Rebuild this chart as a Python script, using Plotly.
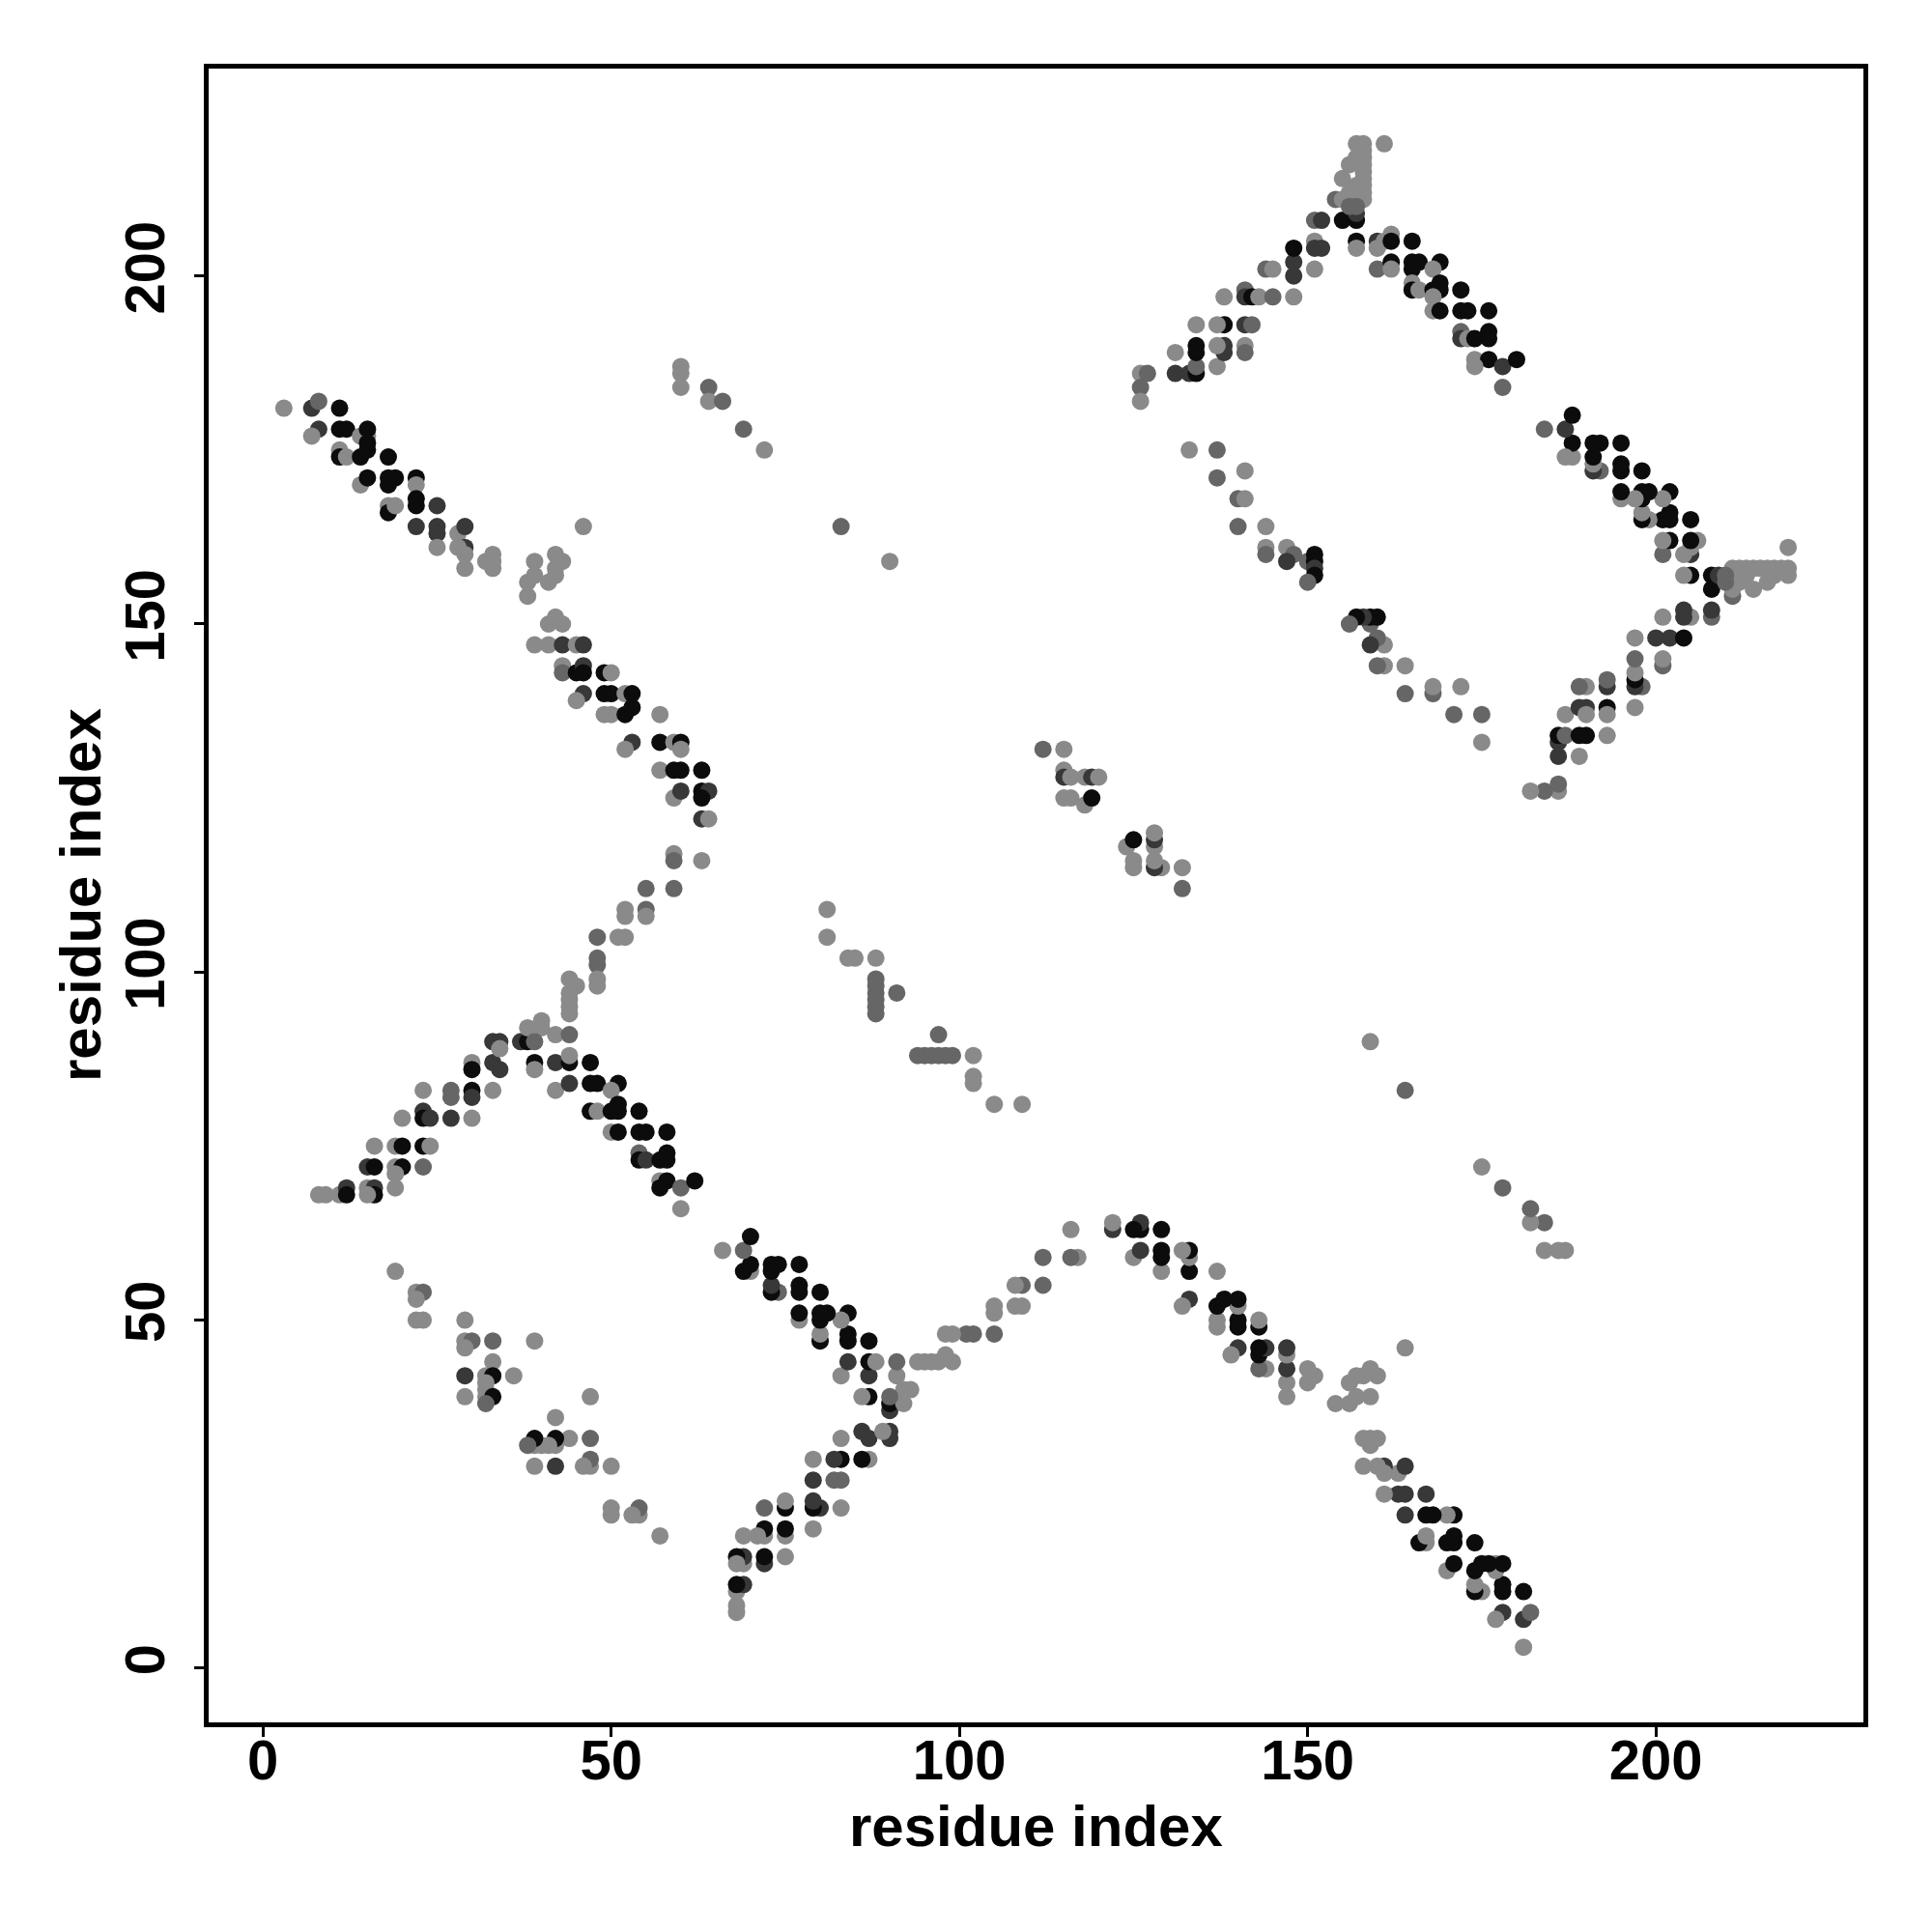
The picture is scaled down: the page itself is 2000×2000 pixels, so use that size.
import plotly.graph_objects as go

# contact score classes (0 = weak/light gray ... 1 = strong/black)
L, M, D, K = 0.0, 0.35, 0.7, 1.0

# contacts (i, j, score) with i < j ; the map is symmetric
band_upper_left = [
    (3,181,L),(7,181,D),(8,182,M),(11,181,K),(8,178,D),(7,177,L),(11,178,K),(12,178,K),
    (14,177,L),(15,177,L),(15,178,K),(11,175,L),(11,174,K),(12,174,L),(14,174,K),(15,175,K),
    (15,176,K),(18,174,K),(14,170,L),(15,171,K),(18,171,K),(19,171,K),(18,170,K),(22,171,K),
    (22,170,L),(18,167,L),(18,166,K),(19,167,L),(22,168,K),(22,167,K),(25,167,D),(22,164,D),
    (25,164,D),(25,163,D),(25,161,L),(28,163,L),(29,164,D),(29,161,D),(28,161,L),(29,160,L),
    (29,158,L),(32,159,L),(33,160,L),(33,158,L),(33,159,L),
    (39,159,L),(42,160,L),(43,159,L),(42,158,L),(38,156,L),(38,154,L),(39,157,L),(41,156,L),
    (42,157,L),(46,164,L),(41,150,L),(42,151,L),(43,150,L),
    (39,147,L),(41,147,L),(43,147,D),(45,147,L),(46,147,D),(43,144,L),(43,143,M),(45,143,K),
    (46,144,D),(46,143,K),(46,140,D),(45,139,L),(49,143,K),(50,143,L),(49,140,K),(50,140,K),
    (49,137,L),(50,137,L),(52,140,L),(53,140,K),(52,137,K),(53,138,K),(53,133,D),(52,132,L),
    (57,137,L),(57,133,K),(59,133,L),(60,133,K),(60,132,L),(57,129,L),(59,129,K),(60,129,K),
    (63,129,K),(59,125,L),(60,126,D),(63,126,K),(64,126,D),(63,125,K),(63,122,D),(64,122,L),
]

isolated_upper = [
    (60,187,L),(60,186,L),(60,184,L),(64,184,M),(64,182,L),(66,182,M),(69,178,M),(72,175,L),
    (83,164,M),(90,159,L),
]

band_lower_left_up = [
    (8,68,L),(9,68,L),(11,68,L),(12,69,D),(12,68,K),(15,69,L),(16,69,D),(16,68,K),(15,68,L),
    (19,69,L),(15,72,D),(16,72,K),(19,72,L),(20,72,K),(23,72,M),(19,71,L),
    (16,75,L),(19,75,L),(20,75,K),(23,75,K),(24,75,L),
    (20,79,L),(23,80,D),(23,79,K),(24,79,D),(27,79,D),(30,79,L),
    (23,83,L),(27,83,M),(27,82,M),(30,83,K),(30,82,D),(33,83,L),
    (30,87,L),(30,86,K),(33,87,D),(34,86,D),
    (33,90,D),(34,90,D),(37,90,D),(38,90,K),(34,89,L),
    (38,92,L),(40,93,L),(40,92,L),(42,91,L),(44,91,M),
    (44,99,L),(45,98,L),(44,97,L),(44,96,L),(44,95,L),(44,94,L),
    (48,102,M),(48,101,M),(48,99,L),(48,98,L),
    (48,105,M),(51,105,L),(52,105,L),
    (52,109,L),(52,108,L),(55,109,M),(55,108,L),
    (55,112,M),(59,112,M),(59,117,L),(59,116,M),(63,116,L),
]

band_lower_left_down = [
    (39,90,M),(39,87,K),(39,86,L),(42,87,D),(44,87,K),(44,88,L),(47,87,K),
    (42,83,L),(44,84,D),(47,84,K),(48,84,K),(51,84,K),(50,83,L),
    (47,80,K),(48,80,L),(50,80,K),(51,81,K),(51,80,K),(54,80,K),
    (50,77,L),(51,77,K),(54,77,K),(55,77,K),(58,77,K),
    (54,74,M),(54,73,K),(55,73,D),(57,73,K),(58,74,K),(58,73,K),
    (57,70,L),(57,69,K),(58,70,K),(60,69,M),(62,70,K),(60,66,L),
]

near_diag_a = [
    (19,57,L),(22,54,L),(23,54,M),(22,53,L),(22,50,L),(23,50,L),(29,50,L),(29,47,L),
    (30,47,M),(29,46,L),(33,47,M),(39,47,L),(33,44,L),(29,42,D),(32,42,L),(33,42,K),
    (36,42,L),(29,39,L),(32,41,L),(32,40,L),(32,39,L),(33,39,K),(32,38,M),
]

near_diag_b = [
    (81,109,L),(81,105,L),(84,102,L),(85,102,L),(88,102,L),(88,99,M),(88,98,M),(88,97,M),
    (88,96,M),(88,95,M),(88,94,M),(91,97,M),
]

near_diag_c = [
    (112,132,M),(115,132,L),(115,129,L),(115,128,D),(116,128,L),(118,128,L),(119,128,D),
    (120,128,L),(115,125,L),(116,125,L),(118,124,L),(119,125,K),
]

near_diag_d = [
    (133,175,L),(137,175,M),(137,171,M),(141,172,L),(140,168,M),(141,168,L),(140,164,M),
    (144,164,L),(144,161,L),(144,160,M),(147,161,L),(148,160,M),(147,159,D),(150,159,M),
    (151,160,K),(151,159,K),(151,158,D),(151,157,K),(150,156,M),
]

band_top_right_up = [
    (126,186,L),(127,186,M),(126,184,M),(126,182,L),
    (131,186,D),(133,186,D),(134,186,K),(134,187,M),(134,190,K),(134,189,K),(131,189,L),
    (137,187,L),(138,189,D),(138,190,D),(137,190,L),(138,193,K),(137,193,L),(134,193,L),
    (141,193,D),(142,193,M),(141,190,L),(141,189,M),
    (138,197,L),(141,198,M),(141,197,D),(142,197,K),(143,197,L),(145,197,M),(148,197,L),
    (144,201,M),(145,201,L),(148,202,D),(148,200,D),(151,201,L),
    (148,204,K),(151,205,L),(151,204,D),(152,204,D),
    (151,208,M),(152,208,D),(155,208,K),(157,208,K),(157,209,D),
]

cluster_top = [
    (154,211,M),(155,211,L),(155,214,L),(156,216,L),(157,217,L),(157,219,L),(158,219,L),
    (161,219,L),(158,218,L),(158,217,L),(158,216,L),(158,215,L),(158,214,L),(158,213,L),
    (158,212,L),(158,211,L),(157,213,L),(157,212,L),(156,212,L),(156,210,M),(157,210,M),
]

band_top_right_down = [
    (157,205,K),(157,204,L),(160,205,D),(160,204,L),(161,205,L),(162,206,L),(162,205,K),(165,205,K),
    (160,201,M),(162,202,K),(162,201,L),(165,202,K),(166,202,K),(165,201,K),(169,202,K),(168,201,L),
    (165,199,L),(165,198,K),(166,198,L),(168,198,K),(169,199,K),(169,198,K),(168,197,L),(172,198,K),
    (168,195,L),(169,195,K),(172,195,K),(173,195,K),(176,195,K),
    (172,192,M),(172,191,D),(173,191,L),(174,191,K),(176,192,K),(176,191,K),
    (174,188,L),(176,188,K),(178,187,D),(180,188,K),(174,187,L),(178,184,M),
]

regions = [band_upper_left, isolated_upper, band_lower_left_up, band_lower_left_down,
           near_diag_a, near_diag_b, near_diag_c, near_diag_d, band_top_right_up,
           cluster_top, band_top_right_down]

xs, ys, cs = [], [], []
for reg in regions:
    for i, j, p in reg:
        xs.append(i); ys.append(j); cs.append(p)
for reg in regions:
    for i, j, p in reg:
        xs.append(j); ys.append(i); cs.append(p)

gray_scale = [[0.0, "#8a8a8a"], [0.35, "#666666"], [0.7, "#383838"], [1.0, "#0c0c0c"]]

fig = go.Figure(go.Scatter(
    x=xs, y=ys, mode="markers",
    marker=dict(size=18, color=cs, colorscale=gray_scale, cmin=0, cmax=1,
                line=dict(width=0), opacity=1),
    showlegend=False, hoverinfo="x+y",
))

font_family = "Liberation Sans, Arial, Helvetica, sans-serif"
tick_font = dict(family=font_family, size=58, color="black", weight="bold")
title_font = dict(family=font_family, size=60, color="black", weight="bold")

axis_common = dict(
    range=[-7.8, 229.8], tickvals=[0, 50, 100, 150, 200],
    ticks="outside", ticklen=10, tickwidth=3, tickcolor="black",
    showline=True, linewidth=5, linecolor="black", mirror=True,
    showgrid=False, zeroline=False, tickfont=tick_font, automargin=False,
)

# page body has an 8 px margin, so the figure is sized/offset to compensate
fig.update_layout(
    width=1984, height=1984,
    margin=dict(l=208, r=63, t=63, b=209),
    paper_bgcolor="white", plot_bgcolor="white",
    xaxis=dict(**axis_common, ticklabelstandoff=-26),
    yaxis=dict(**axis_common, tickangle=-90, ticklabelstandoff=8),
    annotations=[
        dict(text="residue index", xref="paper", yref="paper", x=0.5, y=0,
             xanchor="center", yanchor="middle", yshift=-107, showarrow=False,
             font=title_font),
        dict(text="residue index", xref="paper", yref="paper", x=0, y=0.5,
             xanchor="center", yanchor="middle", xshift=-133, textangle=-90,
             showarrow=False, font=title_font),
    ],
)

fig.write_html("out.html")
